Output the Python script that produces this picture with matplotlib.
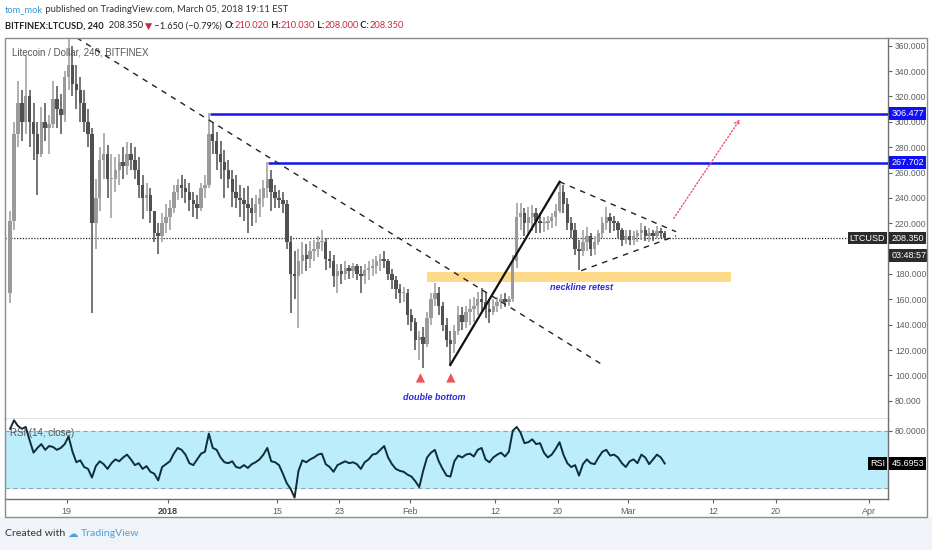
import matplotlib
matplotlib.use('Agg')
import matplotlib.pyplot as plt
import numpy as np
from matplotlib.patches import Rectangle

plt.rcParams['font.family'] = ['Liberation Sans', 'DejaVu Sans']

# ---------------- data ----------------
# 12h candles, x in days relative to 19 Dec 2017 (candle start times)
start_day = -7.5
step = 0.5
first_open = 165
high = [230,300,332,325,352,325,315,300,312,315,
        305,332,328,322,340,366,360,345,335,325,
        310,295,255,280,291,282,275,272,275,280,
        284,283,280,272,258,252,248,228,220,228,
        235,238,250,255,258,255,252,245,242,252,
        258,307,300,292,285,278,270,262,258,250,
        248,249,240,242,247,254,268,262,250,246,
        245,238,210,198,200,205,204,206,207,210,
        215,208,198,195,188,188,190,187,189,188,
        186,188,190,192,194,196,198,192,184,178,
        172,170,168,152,145,135,138,150,165,173,
        170,158,145,135,140,155,154,155,160,162,
        166,169,165,160,160,162,164,165,163,195,
        236,236,232,233,234,232,228,225,226,228,
        235,253,250,240,225,220,207,215,217,212,
        210,215,225,233,228,226,222,216,215,215,
        214,215,220,218,216,215,218,216,214]
low = [157,215,280,285,290,280,270,242,272,285,
       275,295,295,290,300,325,320,310,300,292,
       280,149,200,230,255,240,224,245,250,255,
       258,262,255,240,223,230,220,205,196,205,
       212,215,228,238,240,236,230,225,223,230,
       240,248,275,262,255,240,248,233,232,225,
       222,212,218,220,225,233,240,230,232,232,
       228,200,149,160,137,180,182,185,190,193,
       198,183,185,170,165,172,175,176,177,175,
       165,172,175,178,180,182,185,175,168,160,
       157,158,140,135,120,112,106,122,140,155,
       148,135,122,108,118,132,136,137,140,142,
       148,150,145,141,148,150,152,154,155,158,
       185,215,210,212,214,212,212,213,215,216,
       218,228,228,215,208,195,183,194,198,194,
       195,203,208,215,212,214,208,202,204,203,
       203,205,207,206,205,206,208,208,207]
close = [222,290,315,300,320,300,290,275,300,295,
         298,318,310,305,335,345,330,325,315,300,
         290,220,240,270,275,255,255,262,268,265,
         275,270,262,250,240,242,230,212,210,220,
         225,232,245,250,248,245,238,235,232,248,
         250,290,285,275,268,262,255,245,240,238,
         235,232,228,235,240,248,255,245,240,238,
         235,205,180,178,190,195,192,198,200,205,
         205,192,190,178,182,180,185,182,186,180,
         178,183,185,186,190,192,190,180,175,168,
         165,165,148,142,128,130,125,145,160,165,
         155,140,128,125,135,148,142,150,152,155,
         160,158,152,150,155,158,160,158,160,190,
         225,228,220,225,228,222,220,220,222,225,
         230,245,235,220,215,200,198,205,210,200,
         205,212,220,225,222,220,215,207,210,207,
         210,212,215,210,212,210,214,212,208.35]
rsi = [82,91,85,82,84,70,57,62,66,60,
       64,63,60,62,66,74,58,47,49,42,
       40,31,43,48,45,40,46,50,48,52,
       55,50,44,46,40,43,37,35,28,42,
       45,48,56,62,60,55,46,44,50,56,
       58,77,62,60,52,47,46,48,42,41,
       44,41,45,47,50,55,62,48,47,44,
       35,25,19,10,38,49,47,50,52,55,
       56,45,42,37,44,46,48,46,47,45,
       40,47,50,55,56,60,64,52,45,40,
       38,37,34,32,27,21,38,52,57,60,
       48,40,33,32,48,54,52,55,56,53,
       60,62,50,47,52,55,57,53,58,80,
       84,78,67,68,71,66,67,57,52,55,
       61,68,55,46,42,44,33,45,50,46,
       45,52,58,60,54,55,52,46,42,48,
       50,46,55,52,45,50,55,52,45.6953]

tick_days = [0, 13, 27, 35, 44, 55, 63, 72, 83, 91, 103]
tick_labels = ['19', '2018', '15', '23', 'Feb', '12', '20', 'Mar', '12', '20', 'Apr']
price_ticks = [80, 100, 120, 140, 160, 180, 200, 220, 240, 260, 280, 300, 320, 340, 360]
hidden_price_labels = [200]      # covered by the countdown box in the original
rsi_ticks = [80, 40]
hidden_rsi_labels = [40]         # covered by the RSI value box in the original

resist_levels = [306.477, 267.702]
resist_start = [18.4, 25.8]
zone_days = [46.2, 85.2]
zone_prices = [173.7, 181.6]
trend_days = [1.28, 68.6]
trend_prices = [366.3, 109.0]
tri_up_days = [63.26, 78.2]
tri_up_prices = [252.7, 213.3]
tri_lo_days = [66.03, 78.2]
tri_lo_prices = [182.6, 210.0]
impulse_days = [49.23, 63.26]
impulse_prices = [108.2, 252.7]
proj_days = [77.7, 86.6]
proj_prices = [222.0, 303.8]
bottom_days = [45.4, 49.3]
bottom_price = 98.0

W, H = 932, 550
fig = plt.figure(figsize=(W/100, H/100), dpi=100)
fig.patch.set_facecolor('white')

def fx(px):
    return px / W

def fy(py):
    return 1 - py / H

# bottom band
fig.add_artist(Rectangle((0, 0), 1, fy(517), transform=fig.transFigure,
                         facecolor='#f0f3f8', edgecolor='none', zorder=0))
# outer frame
fig.add_artist(Rectangle((fx(5), fy(517)), fx(922), (517-38)/H, transform=fig.transFigure,
                         facecolor='none', edgecolor='#8c8c8c', lw=1.0, zorder=5))

ax = fig.add_axes([fx(5), fy(419), fx(883), (419-38)/H])
rax = fig.add_axes([fx(5), fy(499), fx(883), (499-419)/H], sharex=ax)

xmin, xmax = -7.91, 105.4
ax.set_xlim(xmin, xmax)
ax.set_ylim(65.6, 366.1)
rax.set_ylim(8.5, 92.3)

# candles
n = len(close)
starts = start_day + step*np.arange(n)
centers = starts + step/2
opens = [first_open] + close[:-1]
for i in range(n):
    o, c = opens[i], close[i]
    hi = max(high[i], o, c)
    lo = min(low[i], o, c)
    col = '#9a9a9a' if c >= o else '#505050'
    ax.vlines(centers[i], lo, hi, color=col, lw=1.1, zorder=3)
    ax.bar(centers[i], max(abs(c-o), 0.6), bottom=min(o, c), width=0.44,
           color=col, edgecolor='none', zorder=3)

# last price dotted line
ax.axhline(close[-1], color='#222222', lw=0.9, ls=(0, (1, 1.3)), zorder=2)

# resistance lines
for lv, sd in zip(resist_levels, resist_start):
    ax.plot([sd, xmax], [lv, lv], color='#1414f0', lw=1.8, zorder=4, solid_capstyle='butt')

# neckline zone
ax.add_patch(Rectangle((zone_days[0], zone_prices[0]), zone_days[1]-zone_days[0],
                       zone_prices[1]-zone_prices[0], facecolor='#fdd98a',
                       edgecolor='none', zorder=2))

# trend lines
ax.plot(trend_days, trend_prices, color='#222222', lw=1.0, ls=(0, (4, 4)), zorder=4)
ax.plot(tri_up_days, tri_up_prices, color='#222222', lw=1.0, ls=(0, (4, 4)), zorder=4)
ax.plot(tri_lo_days, tri_lo_prices, color='#222222', lw=1.0, ls=(0, (4, 4)), zorder=4)
ax.plot(impulse_days, impulse_prices, color='#111111', lw=1.6, zorder=4)
ax.annotate('', xy=(proj_days[1], proj_prices[1]), xytext=(proj_days[0], proj_prices[0]),
            arrowprops=dict(arrowstyle='->', color='#f0506e', lw=1.0, ls=(0, (1, 1.5)),
                            mutation_scale=8), zorder=4)

ax.scatter(bottom_days, [bottom_price]*2, marker='^', s=45, color='#f0525a', zorder=5,
           edgecolors='none')
ax.text(np.mean(bottom_days) - 0.2, 82.2, 'double bottom', color='#2a2ad8', fontsize=6.5,
        style='italic', weight='bold', ha='center', va='center')
ax.text(66.1, 169.7, 'neckline retest', color='#2a2ad8', fontsize=6.5,
        style='italic', weight='bold', ha='center', va='center')

ax.text(0.008, 0.961, 'Litecoin / Dollar, 240, BITFINEX', transform=ax.transAxes,
        fontsize=7, color='#555555', va='center', ha='left')

# axes styling
for a in (ax, rax):
    for s in a.spines.values():
        s.set_color('#707070')
        s.set_linewidth(1.0)
    a.spines['left'].set_visible(False)
    a.set_facecolor('white')
ax.spines['top'].set_visible(False)
rax.spines['top'].set_visible(False)

ax.yaxis.tick_right()
ax.set_yticks(price_ticks)
ax.set_yticklabels(['' if v in hidden_price_labels else '%.3f' % v for v in price_ticks])
ax.tick_params(axis='y', direction='out', length=3, pad=2, labelsize=6.2,
               colors='#606060', width=0.8)
ax.tick_params(axis='x', bottom=False, labelbottom=False)

# RSI pane
rax.axhspan(20, 80, color='#bcedfb', zorder=1)
rax.axhline(80, color='#9aa4a8', lw=0.8, ls=(0, (4, 3)), zorder=2)
rax.axhline(20, color='#9aa4a8', lw=0.8, ls=(0, (4, 3)), zorder=2)
rax.plot(centers, rsi, color='#0f2d38', lw=1.4, zorder=3)
rax.text(0.006, 0.83, 'RSI (14, close)', transform=rax.transAxes, fontsize=7,
         color='#555555', va='center', ha='left', zorder=4)
rax.yaxis.tick_right()
rax.set_yticks(rsi_ticks)
rax.set_yticklabels(['' if v in hidden_rsi_labels else '%.4f' % v for v in rsi_ticks])
rax.tick_params(axis='y', direction='out', length=3, pad=2, labelsize=6.2,
                colors='#606060', width=0.8)
rax.set_xticks(tick_days)
rax.set_xticklabels(tick_labels)
rax.tick_params(axis='x', direction='out', length=3, pad=3, labelsize=6.5,
                colors='#606060', width=0.8)
for lbl in rax.get_xticklabels():
    if lbl.get_text() == '2018':
        lbl.set_fontweight('bold')
        lbl.set_color('#444444')

# price-axis labels
def axis_box(a, y, text, fc, side='right', dy=0):
    if side == 'right':
        a.annotate(text, xy=(1.0, y), xycoords=a.get_yaxis_transform(),
                   xytext=(2.5, dy), textcoords='offset points', ha='left', va='center',
                   fontsize=6.5, color='white', zorder=10, annotation_clip=False,
                   bbox=dict(boxstyle='square,pad=0.22', fc=fc, ec='none'))
    else:
        a.annotate(text, xy=(1.0, y), xycoords=a.get_yaxis_transform(),
                   xytext=(-2, dy), textcoords='offset points', ha='right', va='center',
                   fontsize=6.5, color='white', zorder=10, annotation_clip=False,
                   bbox=dict(boxstyle='square,pad=0.22', fc=fc, ec='none'))

for lv in resist_levels:
    axis_box(ax, lv, '%.3f' % lv, '#1010f5')
axis_box(ax, close[-1], '%.3f' % close[-1], '#2b2b2b')
axis_box(ax, close[-1], '03:48:57', '#2b2b2b', dy=-12.5)
axis_box(ax, close[-1], 'LTCUSD', '#2b2b2b', side='left')
axis_box(rax, rsi[-1], '%.4f' % rsi[-1], '#000000')
axis_box(rax, rsi[-1], 'RSI', '#000000', side='left')

# header text
fig.canvas.draw()
renderer = fig.canvas.get_renderer()
HFAM = ['Lato', 'DejaVu Sans']

def seq_text(x_px, y_px, pieces, size, target=None):
    if target is not None:
        tot = 0
        for txt, col, wt in pieces:
            t = fig.text(0, 0, txt, fontsize=size, weight=wt, family=HFAM)
            tot += t.get_window_extent(renderer).width
            t.remove()
        size = size * target / tot
    x = x_px
    for txt, col, wt in pieces:
        t = fig.text(fx(x), fy(y_px), txt, color=col, fontsize=size, weight=wt,
                     va='center', ha='left', family=HFAM)
        x += t.get_window_extent(renderer).width

seq_text(5, 10, [('tom_mok', '#3a9ad9', 'normal'),
                 (' published on TradingView.com, March 05, 2018 19:11 EST', '#333333', 'normal')],
         7.5, target=282)
red = '#c8283c'
seq_text(5, 26, [('BITFINEX:LTCUSD, 240', '#222222', 'bold'),
                 ('  208.350 ', '#222222', 'normal'),
                 ('▼', red, 'normal'),
                 (' −1.650 (−0.79%) ', '#222222', 'normal'),
                 ('O:', '#222222', 'bold'), ('210.020', red, 'normal'),
                 (' H:', '#222222', 'bold'), ('210.030', red, 'normal'),
                 (' L:', '#222222', 'bold'), ('208.000', red, 'normal'),
                 (' C:', '#222222', 'bold'), ('208.350', red, 'normal')],
         7.5, target=395)

seq_text(5, 534, [('Created with ', '#333333', 'normal'),
                  ('☁ ', '#4aa3df', 'normal'),
                  ('TradingView', '#4aa3df', 'normal')], 7.8, target=135)

fig.savefig('out.png', dpi=100, facecolor=fig.get_facecolor())
